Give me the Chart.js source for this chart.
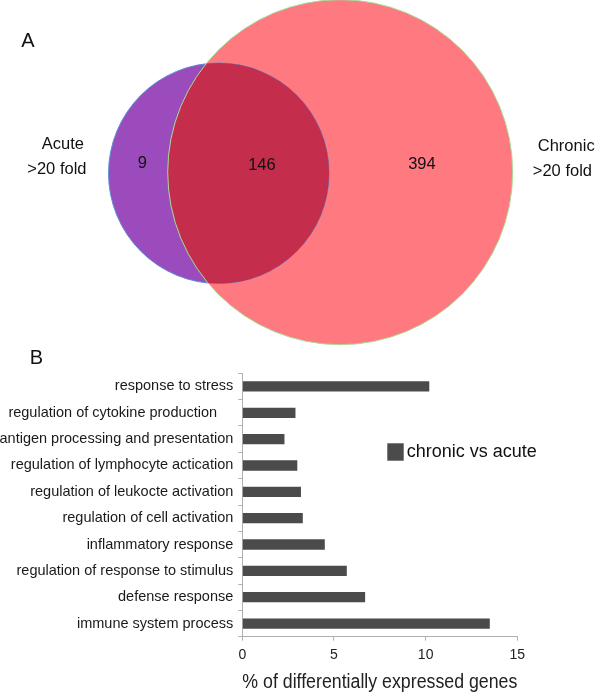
<!DOCTYPE html>
<html><head><meta charset="utf-8">
<script src="https://cdn.jsdelivr.net/npm/chart.js@4/dist/chart.umd.min.js"></script>
<style>
html,body{margin:0;padding:0;background:#fff;}
#wrap{position:relative;width:600px;height:696px;background:#fff;overflow:hidden;}
#venn{position:absolute;left:0;top:0;}
#bars{position:absolute;left:0;top:340px;}
</style></head><body>
<div id="wrap">
<canvas id="venn" width="600" height="350"></canvas>
<canvas id="bars" width="600" height="356"></canvas>
</div>
<script>
const FONT = '"Liberation Sans", Arial, Helvetica, sans-serif';
Chart.defaults.font.family = FONT;

// ---------- Data: panel A (Venn) ----------
const setNames = ['Acute', 'Chronic'];
const setSubtitle = '>20 fold';
const regionCounts = [9, 146, 394]; // acute only, both, chronic only

// ---------- Data: panel B (bars) ----------
const categories = [
  'response to stress',
  'regulation of cytokine production    ',
  'antigen processing and presentation',
  'regulation of lymphocyte actication',
  'regulation of leukocte activation',
  'regulation of cell activation',
  'inflammatory response',
  'regulation of response to stimulus',
  'defense response',
  'immune system process'
];
const percentValues = [10.2, 2.9, 2.3, 3.0, 3.2, 3.3, 4.5, 5.7, 6.7, 13.5];
const seriesName = 'chronic vs acute';
const xTickValues = [0, 5, 10, 15];
const xAxisTitle = '% of differentially expressed genes';

// ---------- Layout (geometry in Venn scale units) ----------
const vennCircles = [{x: 218.8, y: 173.3, r: 110.3}, {x: 340.2, y: 172.2, r: 172.5}];
const countPos = [{x: 142.4, y: 163.3}, {x: 261.9, y: 165.3}, {x: 421.9, y: 164.3}];
const setLabelPos = [
  [{x: 62.8, y: 144}, {x: 56.9, y: 169.3}],
  [{x: 566.2, y: 146}, {x: 562.4, y: 171.7}]
];

const vennPlugin = {
  id: 'vennDecor',
  afterDatasetsDraw(chart) {
    const ctx = chart.ctx;
    const sx = chart.scales.x, sy = chart.scales.y;
    const a = chart.getDatasetMeta(0).data[0];
    const b = chart.getDatasetMeta(1).data[0];
    const ra = a.options.radius, rb = b.options.radius;
    // intersection lens
    ctx.save();
    ctx.beginPath(); ctx.arc(b.x, b.y, rb, 0, Math.PI * 2); ctx.clip();
    ctx.beginPath(); ctx.arc(a.x, a.y, ra, 0, Math.PI * 2);
    ctx.fillStyle = '#c42e4c'; ctx.fill();
    ctx.restore();
    // chronic outline
    ctx.save();
    ctx.beginPath(); ctx.arc(b.x, b.y, rb, 0, Math.PI * 2);
    ctx.strokeStyle = '#a6dc96'; ctx.lineWidth = 1; ctx.stroke();
    ctx.restore();
    // texts
    ctx.save();
    ctx.fillStyle = '#111';
    ctx.textAlign = 'center'; ctx.textBaseline = 'middle';
    ctx.font = '16.5px ' + FONT;
    regionCounts.forEach((v, i) => {
      ctx.fillText(String(v), sx.getPixelForValue(countPos[i].x), sy.getPixelForValue(countPos[i].y));
    });
    setNames.forEach((n, i) => {
      const p = setLabelPos[i];
      ctx.fillText(n, sx.getPixelForValue(p[0].x), sy.getPixelForValue(p[0].y));
      ctx.fillText(setSubtitle, sx.getPixelForValue(p[1].x), sy.getPixelForValue(p[1].y));
    });
    ctx.font = '20px ' + FONT;
    ctx.fillText('A', 28, 41);
    ctx.restore();
  }
};

new Chart(document.getElementById('venn'), {
  type: 'bubble',
  data: {
    datasets: [
      {label: setNames[0], data: [vennCircles[0]], backgroundColor: '#9b4bbb', borderColor: '#5b8fd8', borderWidth: 1, hoverRadius: 0, clip: false},
      {label: setNames[1], data: [vennCircles[1]], backgroundColor: '#ff7a80', borderWidth: 0, hoverRadius: 0, clip: false}
    ]
  },
  options: {
    responsive: false, animation: false, events: [],
    layout: {padding: 0, autoPadding: false},
    plugins: {legend: {display: false}, tooltip: {enabled: false}},
    scales: {
      x: {type: 'linear', display: false, min: 0, max: 600},
      y: {type: 'linear', display: false, min: 0, max: 350, reverse: true}
    }
  },
  plugins: [vennPlugin]
});

const barDecor = {
  id: 'barDecor',
  afterDraw(chart) {
    const ctx = chart.ctx;
    const ds = chart.data.datasets[0];
    ctx.save();
    ctx.fillStyle = ds.backgroundColor;
    ctx.fillRect(387.3, 103.3, 16.4, 17.4);
    ctx.fillStyle = '#111';
    ctx.font = '18px ' + FONT;
    ctx.textAlign = 'left'; ctx.textBaseline = 'middle';
    ctx.fillText(ds.label, 406.7, 112.5);
    ctx.font = '20px ' + FONT;
    ctx.textAlign = 'center';
    ctx.fillText('B', 36.5, 18.5);
    ctx.restore();
  }
};

new Chart(document.getElementById('bars'), {
  type: 'bar',
  data: {
    labels: categories,
    datasets: [{label: seriesName, data: percentValues, backgroundColor: '#4b4b4b', barPercentage: 0.39, categoryPercentage: 1}]
  },
  options: {
    indexAxis: 'y', responsive: false, animation: false, events: [],
    layout: {padding: {top: 33.3, right: 82.7, bottom: 0, left: 0}},
    plugins: {legend: {display: false}, tooltip: {enabled: false}},
    scales: {
      x: {
        type: 'linear', min: 0, max: 15,
        afterBuildTicks: s => { s.ticks = xTickValues.map(v => ({value: v})); },
        ticks: {font: {size: 14}, color: '#222', padding: 6},
        grid: {drawOnChartArea: false, tickLength: 4, color: '#b0b0b0'},
        border: {color: '#b0b0b0'},
        title: {display: true, text: xAxisTitle, font: {size: 19.5}, color: '#222', padding: {top: 0, bottom: 1.3}},
        afterFit: s => { s.height = 59.3; }
      },
      y: {
        ticks: {font: {size: 14.5}, color: '#1a1a1a', padding: 5},
        grid: {drawOnChartArea: false, tickLength: 4, color: '#b0b0b0', offset: true},
        border: {color: '#b0b0b0'},
        afterFit: s => { s.width = 242.3; }
      }
    }
  },
  plugins: [barDecor]
});
</script>
</body></html>
